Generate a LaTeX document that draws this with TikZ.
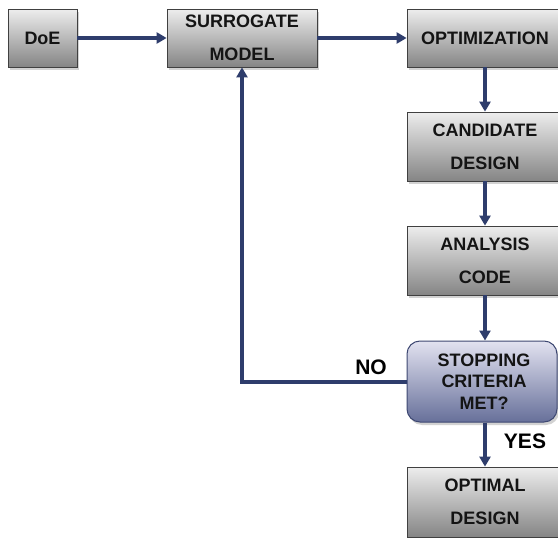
\documentclass[tikz,border=0pt]{standalone}
\usepackage{fontspec}
\setmainfont{Liberation Sans}
\usetikzlibrary{arrows.meta,shadows}
\definecolor{arrowblue}{HTML}{2E3D6C}
\definecolor{decborder}{HTML}{3E4872}
\definecolor{dectop}{HTML}{E2E2F0}
\definecolor{decbot}{HTML}{67709A}
\tikzset{
  procbox/.style={draw=black!75, line width=0.8pt, top color=black!7, bottom color=black!48,
    drop shadow={shadow xshift=2pt, shadow yshift=-3pt, opacity=0.35},
    inner sep=0pt, align=center, font=\bfseries\fontsize{18}{33}\selectfont, text=black!92},
  decbox/.style={draw=decborder, line width=1pt, rounded corners=13pt, top color=dectop, bottom color=decbot,
    drop shadow={shadow xshift=2pt, shadow yshift=-3pt, opacity=0.35},
    inner sep=0pt, align=center, font=\bfseries\fontsize{18}{21.5}\selectfont, text=black!92},
  flow/.style={draw=arrowblue, line width=3.2pt, -{Triangle[width=11pt,length=10pt]}},
  lbl/.style={font=\bfseries\fontsize{21}{24}\selectfont, inner sep=0pt}
}
\begin{document}
\begin{tikzpicture}[x=1pt,y=-1pt]
\useasboundingbox[fill=white] (0,0) rectangle (558,538);
\node[procbox, minimum width=69pt, minimum height=58pt] (doe) at (42.5,38) {DoE};
\node[procbox, minimum width=150pt, minimum height=58pt] (sur) at (242,38) {SURROGATE\\MODEL};
\node[procbox, minimum width=156pt, minimum height=58pt] (opt) at (485,38) {OPTIMIZATION};
\node[procbox, minimum width=156pt, minimum height=69pt] (cand) at (485,146.5) {CANDIDATE\\DESIGN};
\node[procbox, minimum width=156pt, minimum height=69pt] (ana) at (485,260.5) {ANALYSIS\\CODE};
\node[decbox, minimum width=150pt, minimum height=81pt] (stop) at (482,381.5) {\hspace*{4pt}STOPPING\\\hspace*{4pt}CRITERIA\\\hspace*{4pt}MET?};
\node[procbox, minimum width=156pt, minimum height=70pt] (optd) at (485,502) {OPTIMAL\\DESIGN};
\coordinate (corner) at (242,382);
\draw[flow] (doe.east) -- (sur.west);
\draw[flow] (sur.east) -- (opt.west);
\draw[flow] (opt.south) -- (cand.north);
\draw[flow] (cand.south) -- (ana.north);
\draw[flow] (ana.south) -- (ana.south |- stop.north);
\draw[flow] (stop.south -| optd.north) -- (optd.north);
\draw[flow] (stop.west |- corner) -- (corner) -- (sur.south);
\node[lbl] (no) at (371,367) {NO};
\node[lbl] (yes) at (525,441) {YES};
\end{tikzpicture}
\end{document}
